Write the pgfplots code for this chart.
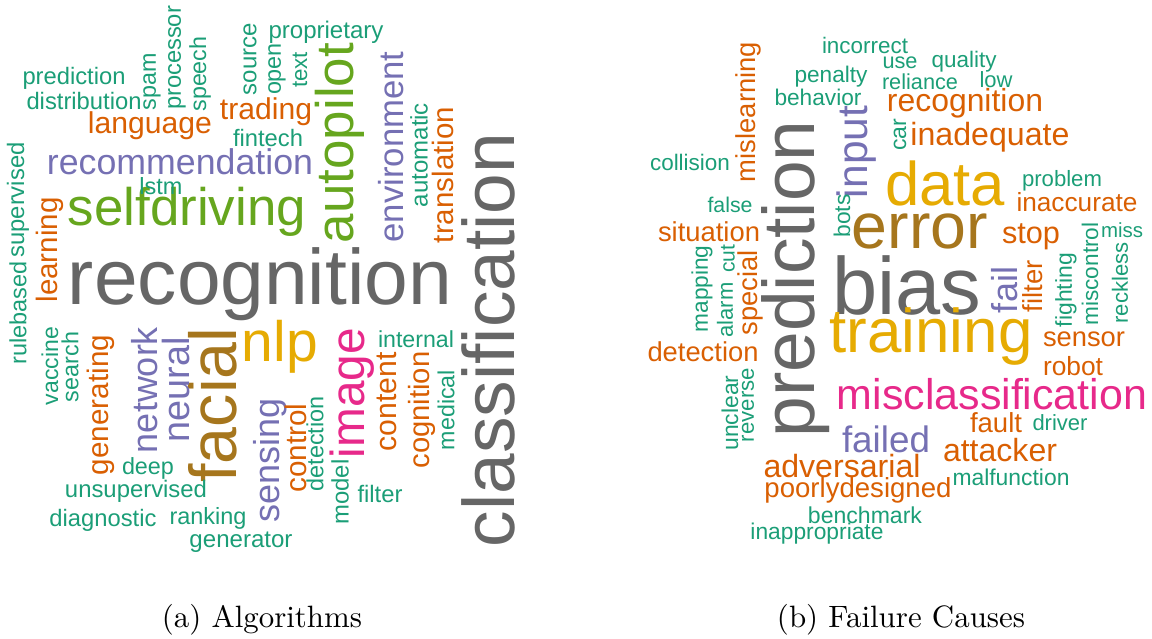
\documentclass[border=0pt]{standalone}
\usepackage{fontspec}
\usepackage{graphicx}
\usepackage{pgfplots}
\usepackage{pgfplotstable}
\pgfplotsset{compat=1.18}
\newfontfamily\wcfont{Liberation Sans}
\definecolor{wcGray}{HTML}{666666}
\definecolor{wcGreen}{HTML}{66A61E}
\definecolor{wcBrown}{HTML}{A6761D}
\definecolor{wcGold}{HTML}{E6AB02}
\definecolor{wcPink}{HTML}{E7298A}
\definecolor{wcPurple}{HTML}{7570B3}
\definecolor{wcOrange}{HTML}{D95F02}
\definecolor{wcTeal}{HTML}{1B9E77}

% meta = colour/rotation/width(px)/word
\def\wcword#1/#2/#3/#4\relax{\rotatebox{#2}{\resizebox{#3pt}{!}{\color{#1}\wcfont #4}}}

\pgfplotstableread{
x y m
260 284 wcGray/0/384/recognition
488 340 wcGray/90/414/classification
187 212 wcGreen/0/238/selfdriving
340 143 wcGreen/90/200/autopilot
213 405 wcBrown/90/155/facial
280 347 wcGold/0/76/nlp
352 393 wcPink/90/130/image
180 162 wcPurple/0/266/recommendation
391 147 wcPurple/90/191/environment
145 390 wcPurple/90/126/network
176 390 wcPurple/90/105/neural
270 460 wcPurple/90/124/sensing
150 126 wcOrange/0/124/language
266 112 wcOrange/0/92/trading
50 250 wcOrange/90/105/learning
443 175 wcOrange/90/136/translation
101 405 wcOrange/90/140/generating
387 402 wcOrange/90/99/content
422 410 wcOrange/90/117/cognition
296 448 wcOrange/90/89/control
74 78 wcTeal/0/103/prediction
84 101 wcTeal/0/115/distribution
152 82 wcTeal/90/57/spam
177 58 wcTeal/90/104/processor
200 74 wcTeal/90/75/speech
250 59 wcTeal/90/72/source
277 69 wcTeal/90/52/open
300 70 wcTeal/90/36/text
326 32 wcTeal/0/115/proprietary
268 138 wcTeal/0/70/fintech
161 186 wcTeal/0/43/lstm
18 200 wcTeal/90/115/supervised
18 313 wcTeal/90/103/rulebased
419 155 wcTeal/90/104/automatic
416 339 wcTeal/0/76/internal
446 410 wcTeal/90/80/medical
315 444 wcTeal/90/95/detection
340 492 wcTeal/90/65/model
380 494 wcTeal/0/45/filter
50 366 wcTeal/90/78/vaccine
70 367 wcTeal/90/70/search
148 468 wcTeal/0/52/deep
136 491 wcTeal/0/142/unsupervised
103 520 wcTeal/0/107/diagnostic
208 518 wcTeal/0/77/ranking
241 542 wcTeal/0/103/generator
}\cloudA

\pgfplotstableread{
x y m
796 279 wcGray/90/317/prediction
907 285 wcGray/0/149/bias
945 183 wcGold/0/120/data
931 336 wcGold/0/203/training
920 231 wcBrown/0/136/error
992 394 wcPink/0/310/misclassification
857 152 wcPurple/90/92/input
1005 290 wcPurple/90/46/fail
886 439 wcPurple/0/88/failed
965 103 wcOrange/0/156/recognition
990 137 wcOrange/0/159/inadequate
748 112 wcOrange/90/140/mislearning
709 232 wcOrange/0/102/situation
750 293 wcOrange/90/85/special
703 352 wcOrange/0/111/detection
1077 202 wcOrange/0/121/inaccurate
1031 237 wcOrange/0/58/stop
1033 286 wcOrange/90/52/filter
1084 339 wcOrange/0/82/sensor
1073 366 wcOrange/0/60/robot
996 423 wcOrange/0/52/fault
1000 450 wcOrange/0/114/attacker
842 466 wcOrange/0/157/adversarial
858 490 wcOrange/0/187/poorlydesigned
865 45 wcTeal/0/86/incorrect
900 63 wcTeal/0/35/use
964 62 wcTeal/0/65/quality
920 82 wcTeal/0/76/reliance
996 80 wcTeal/0/33/low
831 77 wcTeal/0/73/penalty
818 97 wcTeal/0/87/behavior
900 135 wcTeal/90/32/car
690 162 wcTeal/0/80/collision
1062 181 wcTeal/0/80/problem
730 205 wcTeal/0/45/false
842 216 wcTeal/90/43/bots
702 289 wcTeal/90/87/mapping
725 310 wcTeal/90/55/alarm
728 259 wcTeal/90/28/cut
1122 230 wcTeal/0/42/miss
1090 274 wcTeal/90/103/miscontrol
1120 283 wcTeal/90/81/reckless
1066 290 wcTeal/90/74/fighting
1060 423 wcTeal/0/55/driver
1011 477 wcTeal/0/117/malfunction
865 515 wcTeal/0/114/benchmark
817 534 wcTeal/0/133/inappropriate
730 413 wcTeal/90/75/unclear
748 405 wcTeal/90/74/reverse
}\cloudB

\pgfplotsset{wordcloud/.style={
  only marks, mark=none, point meta=explicit symbolic,
  nodes near coords={\expandafter\wcword\pgfplotspointmeta\relax},
  every node near coord/.append style={anchor=center, inner sep=0pt}
}}

\begin{document}
\begin{tikzpicture}
\begin{axis}[width=1152pt,height=639pt,scale only axis,
  xmin=0,xmax=1152,ymin=0,ymax=639,y dir=reverse,hide axis,clip=false]
\addplot[wordcloud] table[x=x,y=y,meta=m]{\cloudA};
\addplot[wordcloud] table[x=x,y=y,meta=m]{\cloudB};
\node[inner sep=0pt] at (axis cs:262,620) {\resizebox{200pt}{!}{(a) Algorithms}};
\node[inner sep=0pt] at (axis cs:901,620) {\resizebox{248pt}{!}{(b) Failure Causes}};
\end{axis}
\pgfresetboundingbox
\path (0,0) rectangle (1152pt,639pt);
\end{tikzpicture}
\end{document}
